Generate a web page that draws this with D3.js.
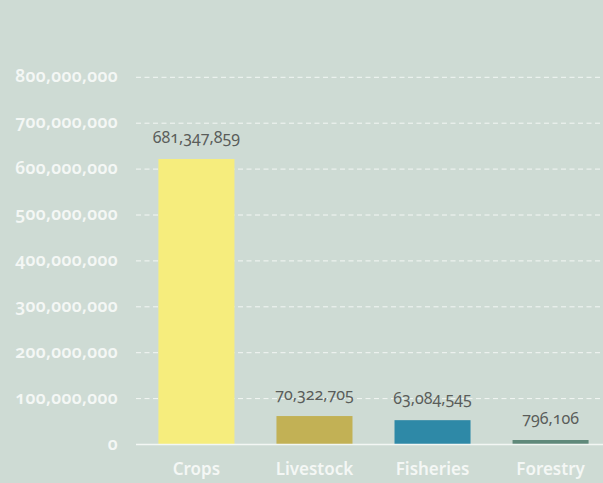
<!DOCTYPE html>
<html>
<head>
<meta charset="utf-8">
<script src="https://cdn.jsdelivr.net/npm/d3@7"></script>
<style>
  html, body { margin: 0; padding: 0; background: #cedbd4; }
  svg { display: block; font-family: "Noto Sans", "Open Sans", sans-serif; font-variant-numeric: oldstyle-nums; }
</style>
</head>
<body>
<svg class="bar-chart"></svg>
<script>
// categories and printed totals
var categories = ["Crops", "Livestock", "Fisheries", "Forestry"];
var totals = [681347859, 70322705, 63084545, 796106];
// bar heights as they appear against the axis
var barHeights = [622000000, 62000000, 53000000, 9800000];
var barColors = ["#f6ed7d", "#c2b155", "#2e89a7", "#5f897a"];
var yTicks = [0, 100000000, 200000000, 300000000, 400000000, 500000000, 600000000, 700000000, 800000000];

var width = 603, height = 483;
var plotLeft = 136, plotTop = 77.3, plotBottom = 444.5;

var graphData = categories.map(function(c, i) {
  return { cat: c, total: totals[i], bar: barHeights[i], color: barColors[i] };
});

var svg = d3.select(".bar-chart")
  .attr("width", width)
  .attr("height", height);

var xScale = d3.scaleBand()
  .domain(categories)
  .range([plotLeft, 611])
  .paddingInner(0.356)
  .paddingOuter(0.19);

var yScale = d3.scaleLinear()
  .domain([0, 800000000])
  .range([plotBottom, plotTop]);

var fmt = d3.format(",");

// grid lines
svg.selectAll(".grid-line").data(yTicks.filter(function(d) { return d > 0; }))
  .enter()
  .append("line")
  .classed("grid-line", true)
  .attr("x1", plotLeft)
  .attr("x2", width)
  .attr("y1", function(d) { return yScale(d); })
  .attr("y2", function(d) { return yScale(d); })
  .style("stroke", "#f3f7f4")
  .style("stroke-width", 1)
  .style("stroke-dasharray", "5,3.5");

// y tick labels
svg.selectAll(".y-label").data(yTicks)
  .enter()
  .append("text")
  .classed("y-label", true)
  .attr("x", 118)
  .attr("y", function(d) { return yScale(d) + 5; })
  .text(function(d) { return fmt(d); })
  .style("text-anchor", "end")
  .style("font-size", "17.5px")
  .style("font-weight", 600)
  .style("letter-spacing", "0.3px")
  .style("fill", "#f4f7f5");

// bars
svg.selectAll(".data-bar").data(graphData)
  .enter()
  .append("rect")
  .classed("data-bar", true)
  .attr("x", function(d) { return xScale(d.cat); })
  .attr("y", function(d) { return yScale(d.bar); })
  .attr("width", xScale.bandwidth())
  .attr("height", function(d) { return yScale(0) - yScale(d.bar); })
  .style("fill", function(d) { return d.color; });

// baseline
svg.append("line")
  .attr("x1", plotLeft)
  .attr("x2", width)
  .attr("y1", yScale(0))
  .attr("y2", yScale(0))
  .style("stroke", "#f3f7f4")
  .style("stroke-width", 1.5);

// value labels
svg.selectAll(".value-label").data(graphData)
  .enter()
  .append("text")
  .classed("value-label", true)
  .attr("x", function(d) { return xScale(d.cat) + xScale.bandwidth() / 2; })
  .attr("y", function(d) { return yScale(d.bar) - 16; })
  .text(function(d) { return fmt(d.total); })
  .style("text-anchor", "middle")
  .style("font-size", "16px")
  .style("fill", "#5a5d5a");

// category labels
svg.selectAll(".cat-label").data(graphData)
  .enter()
  .append("text")
  .classed("cat-label", true)
  .attr("x", function(d) { return xScale(d.cat) + xScale.bandwidth() / 2; })
  .attr("y", 475)
  .text(function(d) { return d.cat; })
  .style("text-anchor", "middle")
  .style("font-size", "17px")
  .style("font-weight", 600)
  .style("fill", "#f4f7f5");
</script>
</body>
</html>
